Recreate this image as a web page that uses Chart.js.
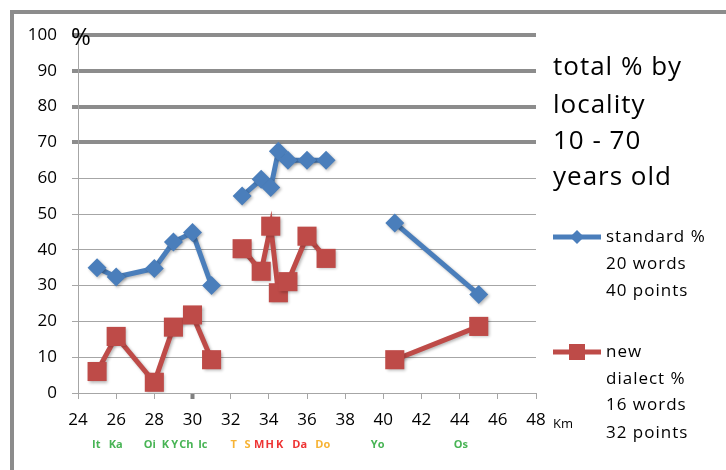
<!DOCTYPE html>
<html>
<head>
<meta charset="utf-8">
<script src="https://cdn.jsdelivr.net/npm/chart.js@4/dist/chart.umd.min.js"></script>
<style>
  html, body { margin: 0; padding: 0; background: #ffffff; }
  #wrap { width: 726px; height: 470px; position: relative; }
</style>
</head>
<body>
<div id="wrap"><canvas id="c" width="726" height="470"></canvas></div>
<script>
// Distance from the centre (km) of each surveyed locality
const km = [25, 26, 28, 29, 30, 31, 32.6, 33.6, 34.1, 34.5, 35, 36, 37, 40.6, 45];
// Share of answers in standard language (%), 20 words / 40 points
const standardPct = [35, 32.4, 34.8, 42.2, 44.8, 30, 55, 59.7, 57.4, 67.5, 65, 65, 65, 47.5, 27.5];
// Share of answers in the new dialect (%), 16 words / 32 points
const newDialectPct = [6, 15.8, 3, 18.4, 21.8, 9.3, 40.3, 34, 46.6, 28, 31.1, 43.8, 37.6, 9.3, 18.6];
// The line is interrupted after these distances
const breakAfterKm = [31, 37];

// Locality abbreviations written under the distance axis
const placeNames = ['It', 'Ka', 'Oi', 'K', 'Y', 'Ch', 'Ic', 'T', 'S', 'M', 'H', 'K', 'Da', 'Do', 'Yo', 'Os'];
const placeKm = [24.96, 25.98, 27.76, 28.58, 29.07, 29.68, 30.54, 32.16, 32.88, 33.49, 34.05, 34.57, 35.62, 36.83, 39.7, 44.06];
const placeGroup = ['g', 'g', 'g', 'g', 'g', 'g', 'g', 'o', 'o', 'r', 'r', 'r', 'r', 'o', 'g', 'g'];

const xTicks = [24, 26, 28, 30, 32, 34, 36, 38, 40, 42, 44, 46, 48];
const yTicks = [0, 10, 20, 30, 40, 50, 60, 70, 80, 90, 100];

const titleLines = ['total % by', 'locality', '10 - 70', 'years old'];
const standardLabel = ['standard %', '20 words', '40 points'];
const dialectLabel = ['new', 'dialect %', '16 words', '32 points'];

const BLUE = '#4a7ebb';
const RED = '#be4b48';
const GROUP_COLOURS = { g: '#48b455', o: '#f7b334', r: '#ee3434' };
const FONT = '"Open Sans", "Liberation Sans", sans-serif';

function toPoints(values) {
  const pts = [];
  km.forEach((x, i) => {
    pts.push({ x: x, y: values[i] });
    if (breakAfterKm.includes(x)) pts.push({ x: x, y: null });
  });
  return pts;
}

// soft drop shadow under the series lines and markers
const seriesShadow = {
  id: 'seriesShadow',
  beforeDatasetsDraw(chart) {
    const ctx = chart.ctx;
    ctx.save();
    ctx.shadowColor = 'rgba(0,0,0,0.28)';
    ctx.shadowBlur = 3;
    ctx.shadowOffsetX = 1.5;
    ctx.shadowOffsetY = 1.5;
  },
  afterDatasetsDraw(chart) {
    chart.ctx.restore();
  }
};

const decorations = {
  id: 'decorations',
  afterDraw(chart) {
    const ctx = chart.ctx;
    const xs = chart.scales.x;
    ctx.save();

    // outer frame (top and left edges)
    ctx.strokeStyle = '#8c8c8c';
    ctx.lineWidth = 4;
    ctx.beginPath();
    ctx.moveTo(10, 12); ctx.lineTo(726, 12);
    ctx.moveTo(12, 10); ctx.lineTo(12, 470);
    ctx.stroke();

    ctx.fillStyle = '#000';
    ctx.textBaseline = 'middle';

    // unit labels
    ctx.textAlign = 'left';
    ctx.font = '24px ' + FONT;
    ctx.fillText('%', 71, 38);
    ctx.font = '13px ' + FONT;
    ctx.fillText('Km', 553, 424);

    // heading on the right
    ctx.font = '26px ' + FONT;
    ctx.letterSpacing = '1px';
    const titleY = [68, 106, 142, 178];
    titleLines.forEach((t, i) => ctx.fillText(t, 553, titleY[i]));

    // legend
    const drawKey = (colour, y, marker) => {
      ctx.strokeStyle = colour;
      ctx.fillStyle = colour;
      ctx.lineWidth = 5;
      ctx.beginPath();
      ctx.moveTo(553, y); ctx.lineTo(601, y);
      ctx.stroke();
      ctx.beginPath();
      if (marker === 'diamond') {
        ctx.moveTo(577, y - 7); ctx.lineTo(584, y); ctx.lineTo(577, y + 7); ctx.lineTo(570, y);
        ctx.closePath();
      } else {
        ctx.rect(569, y - 8, 16, 16);
      }
      ctx.fill();
    };
    drawKey(BLUE, 237, 'diamond');
    drawKey(RED, 352, 'square');

    ctx.fillStyle = '#000';
    ctx.font = '17px ' + FONT;
    const stdY = [237, 264, 291];
    standardLabel.forEach((t, i) => ctx.fillText(t, 606, stdY[i]));
    const dialY = [352, 379, 405, 433];
    dialectLabel.forEach((t, i) => ctx.fillText(t, 606, dialY[i]));

    // locality names along the distance axis
    ctx.letterSpacing = '0px';
    ctx.textAlign = 'center';
    ctx.font = 'bold 11px ' + FONT;
    placeNames.forEach((name, i) => {
      ctx.fillStyle = GROUP_COLOURS[placeGroup[i]];
      ctx.fillText(name, xs.getPixelForValue(placeKm[i]), 445);
    });

    ctx.restore();
  }
};

new Chart(document.getElementById('c'), {
  type: 'line',
  data: {
    datasets: [
      {
        label: 'standard %',
        data: toPoints(standardPct),
        borderColor: BLUE,
        backgroundColor: BLUE,
        borderWidth: 5,
        pointStyle: 'rectRot',
        pointRadius: 9.5,
        pointHoverRadius: 9.5,
        pointBorderWidth: 0,
        spanGaps: false,
        tension: 0
      },
      {
        label: 'new dialect %',
        data: toPoints(newDialectPct),
        borderColor: RED,
        backgroundColor: RED,
        borderWidth: 5,
        pointStyle: 'rect',
        pointRadius: 13.5,
        pointHoverRadius: 13.5,
        pointBorderWidth: 0,
        spanGaps: false,
        tension: 0
      }
    ]
  },
  options: {
    responsive: false,
    animation: false,
    devicePixelRatio: 1,
    layout: { padding: { left: 0, right: 190, top: 35, bottom: 0 } },
    plugins: { legend: { display: false }, tooltip: { enabled: false } },
    scales: {
      x: {
        type: 'linear',
        min: 24,
        max: 48,
        afterBuildTicks: s => { s.ticks = xTicks.map(v => ({ value: v })); },
        afterFit: s => { s.height = 77; },
        border: { display: true, color: '#a6a6a6', width: 1 },
        grid: {
          drawOnChartArea: false,
          drawTicks: true,
          tickLength: 6,
          tickColor: c => (c.tick && c.tick.value === 30 ? '#808080' : '#a6a6a6'),
          tickWidth: c => (c.tick && c.tick.value === 30 ? 4 : 1)
        },
        ticks: { color: '#000', font: { size: 17, family: FONT }, padding: 11, maxRotation: 0 }
      },
      y: {
        min: 0,
        max: 100,
        afterBuildTicks: s => { s.ticks = yTicks.map(v => ({ value: v })); },
        afterFit: s => { s.width = 78; },
        border: { display: true, color: '#a6a6a6', width: 1 },
        grid: {
          color: c => (c.tick && c.tick.value >= 70 ? '#8c8c8c' : '#a6a6a6'),
          lineWidth: c => (c.tick && c.tick.value >= 70 ? 4 : 1),
          drawTicks: true,
          tickLength: 6
        },
        ticks: { color: '#000', font: { size: 17, family: FONT }, padding: 15 }
      }
    }
  },
  plugins: [seriesShadow, decorations]
});
</script>
</body>
</html>
